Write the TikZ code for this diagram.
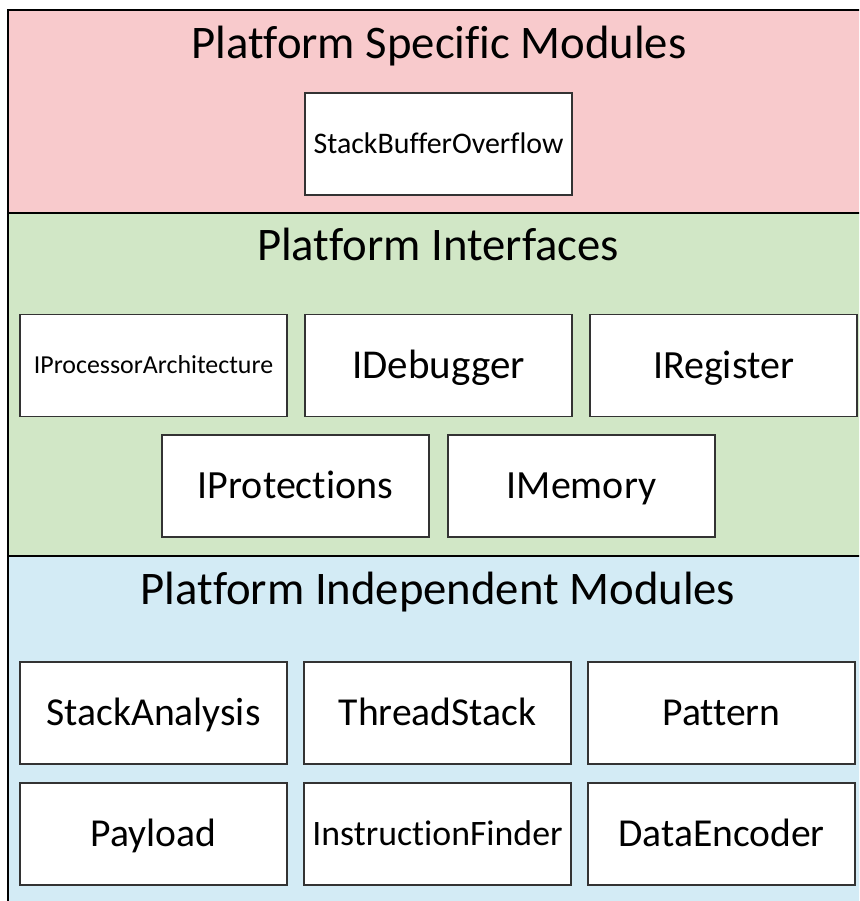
\documentclass[tikz,border=0pt]{standalone}
\usepackage{fontspec}
\setmainfont[Ligatures={NoCommon}]{Carlito}
\definecolor{specbg}{HTML}{F8CACC}
\definecolor{ifacebg}{HTML}{D1E7C6}
\definecolor{indepbg}{HTML}{D3EBF5}
\definecolor{boxline}{HTML}{333333}
\tikzset{
  % font size and cap height: the text box is cut to the caps so they sit centred
  txt/.style 2 args={font=\fontsize{#1}{#1}\selectfont, text height=#2, text depth=0pt},
  module/.style={draw=boxline, line width=1.3pt, fill=white,
    minimum width=267pt, minimum height=102pt, inner sep=0pt},
  bandtitle/.style={inner sep=0pt, txt={46.7pt}{30.1pt}},
  ifacetxt/.style={txt={40pt}{25.8pt}},
  indeptxt/.style={txt={39.6pt}{25.5pt}},
}
\begin{document}
\begin{tikzpicture}[x=1pt,y=-1pt]
\useasboundingbox (0,0) rectangle (859,901);
\clip (0,0) rectangle (859,901);
% layer bands
\fill[specbg]  (8,10)  rectangle (880,213);
\fill[ifacebg] (8,213) rectangle (880,556);
\fill[indepbg] (8,556) rectangle (880,920);
\draw[line width=1.6pt] (8,213) -- (880,213);
\draw[line width=1.6pt] (8,556) -- (880,556);
\draw[line width=2.2pt] (8,920) -- (8,10) -- (880,10);
% titles
\node[bandtitle] (tspec)  at (439,43.3)  {Platform Specific Modules};
\node[bandtitle] (tiface) at (438,245.5) {Platform Interfaces};
\node[bandtitle] (tindep) at (438,589.5) {Platform Independent Modules};
% platform specific
\node[module, txt={29.9pt}{19.3pt}] (sbo) at (438.5,144) {StackBufferOverflow};
% interfaces
\node[module, txt={25.9pt}{16.7pt}] (ipa) at (153.5,365.5) {IProcessorArchitecture};
\node[module, txt={41pt}{26.4pt}] (idbg) at (438.5,365.5) {IDebugger};
\node[module, ifacetxt] (ireg) at (723.5,365.5) {IRegister};
\node[module, ifacetxt] (iprot) at (295.5,486) {IProtections};
\node[module, ifacetxt] (imem) at (581.5,486) {IMemory};
% independent modules
\node[module, indeptxt] (sa) at (153.5,713) {StackAnalysis};
\node[module, indeptxt] (ts) at (437.5,713) {ThreadStack};
\node[module, indeptxt] (pat) at (721.5,713) {Pattern};
\node[module, indeptxt] (pay) at (153.5,834) {Payload};
\node[module, txt={35.8pt}{23.1pt}] (ifind) at (437.5,834) {InstructionFinder};
\node[module, indeptxt] (enc) at (721.5,834) {DataEncoder};
\end{tikzpicture}
\end{document}
